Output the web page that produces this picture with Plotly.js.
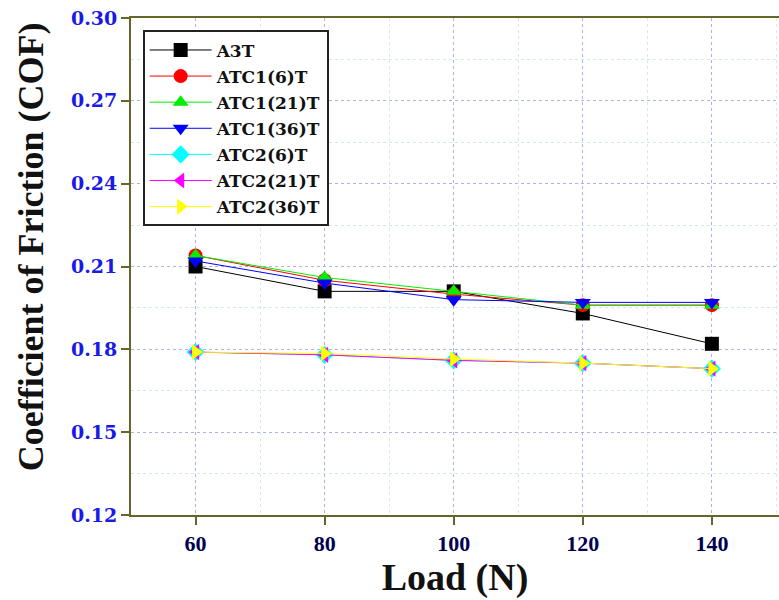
<!DOCTYPE html>
<html><head><meta charset="utf-8">
<script src="https://cdn.plot.ly/plotly-3.0.1.min.js"></script>
<style>body{margin:0;padding:0;background:#fff}#chart{width:779px;height:600px}</style>
</head><body><div id="chart"></div>
<script>
const loads = [60, 80, 100, 120, 140];
const seriesNames = ["A3T", "ATC1(6)T", "ATC1(21)T", "ATC1(36)T", "ATC2(6)T", "ATC2(21)T", "ATC2(36)T"];
const A3T      = [0.210, 0.201, 0.201, 0.193, 0.182];
const ATC1_6T  = [0.214, 0.205, 0.200, 0.196, 0.196];
const ATC1_21T = [0.214, 0.206, 0.201, 0.196, 0.196];
const ATC1_36T = [0.212, 0.204, 0.198, 0.197, 0.197];
const ATC2_6T  = [0.179, 0.178, 0.176, 0.175, 0.173];
const ATC2_21T = [0.179, 0.178, 0.176, 0.175, 0.173];
const ATC2_36T = [0.179, 0.1785, 0.1765, 0.175, 0.173];
const yTicks = [0.12, 0.15, 0.18, 0.21, 0.24, 0.27, 0.30];
const yTickText = ["0.12", "0.15", "0.18", "0.21", "0.24", "0.27", "0.30"];
const xTitle = "Load (N)";
const yTitle = "Coefficient of Friction (COF)";

const colors = ["#000000", "#ff0000", "#00ee00", "#0000ff", "#00ffff", "#ff00ff", "#ffff00"];
const symbols = ["square", "circle", "triangle-up", "triangle-down", "diamond", "triangle-left", "triangle-right"];
const data = [A3T, ATC1_6T, ATC1_21T, ATC1_36T, ATC2_6T, ATC2_21T, ATC2_36T];

const traces = data.map((vals, i) => ({
  x: loads, y: vals, name: seriesNames[i], type: "scatter", mode: "lines+markers",
  legendgroup: "g" + i,
  line: {color: colors[i], width: 1},
  marker: {symbol: symbols[i], color: colors[i], size: 14, line: {width: 0}}
}));

const axisColor = "#66662a";
const serif = "DejaVu Serif, Liberation Serif, serif";
const serif2 = "Liberation Serif, DejaVu Serif, serif";
const layout = {
  width: 779, height: 600,
  margin: {l: 131, r: 0, t: 18, b: 85},
  paper_bgcolor: "#fff", plot_bgcolor: "#fff",
  showlegend: true,
  legend: {
    x: 0.018, y: 0.975, xanchor: "left", yanchor: "top",
    bgcolor: "#fff", bordercolor: "#222", borderwidth: 2,
    font: {family: serif, size: 17, color: "#111", weight: "bold"},
    itemwidth: 62, tracegroupgap: 1
  },
  xaxis: {
    range: [50, 150.4], tickvals: loads, ticktext: loads.map(String),
    showline: true, linecolor: axisColor, linewidth: 2, mirror: true,
    ticks: "outside", ticklen: 8, tickcolor: axisColor, tickwidth: 2,
    showgrid: true, gridcolor: "#b0b2e4", griddash: "dot", gridwidth: 1,
    zeroline: false,
    minor: {dtick: 10, showgrid: true, gridcolor: "#d6ecdc", griddash: "dot", gridwidth: 1, ticks: ""},
    tickfont: {family: serif2, size: 22, color: "#000050", weight: "bold"},
    title: {text: xTitle, font: {family: serif2, size: 38, color: "#111", weight: "bold"}, standoff: 8}
  },
  yaxis: {
    range: [0.12, 0.30], tickvals: yTicks, ticktext: yTickText,
    showline: true, linecolor: axisColor, linewidth: 2, mirror: true,
    ticks: "outside", ticklen: 8, tickcolor: axisColor, tickwidth: 2,
    showgrid: true, gridcolor: "#b0b2e4", griddash: "dot", gridwidth: 1,
    zeroline: false,
    minor: {dtick: 0.015, showgrid: true, gridcolor: "#d6ecdc", griddash: "dot", gridwidth: 1, ticks: ""},
    tickfont: {family: serif, size: 19, color: "#1a1ae6", weight: "bold"},
    title: {text: ""}
  },
  annotations: [{
    text: yTitle, textangle: -90, showarrow: false,
    xref: "paper", yref: "paper", x: -0.154, y: 0.539, xanchor: "center", yanchor: "middle",
    font: {family: serif2, size: 36, color: "#111", weight: "bold"}
  }]
};
Plotly.newPlot("chart", traces, layout, {displayModeBar: false, staticPlot: true});
</script></body></html>
